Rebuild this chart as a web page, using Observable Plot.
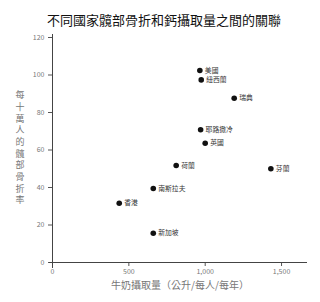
<!DOCTYPE html>
<html><head><meta charset="utf-8">
<script src="https://cdn.jsdelivr.net/npm/d3@7"></script>
<script src="https://cdn.jsdelivr.net/npm/@observablehq/plot@0.6"></script>
<style>body{margin:0;background:#fff;font-family:"Noto Sans CJK TC","Noto Sans",sans-serif}</style>
</head><body><div id="c"></div>
<script>
const countries = ["美國","紐西蘭","瑞典","耶路撒冷","英國","荷蘭","芬蘭","南斯拉夫","香港","新加坡"];
const milk = [965, 974, 1190, 970, 1000, 810, 1430, 660, 437, 660];
const fracture = [102.4, 97.4, 87.6, 70.8, 63.6, 51.7, 50, 39.5, 31.6, 15.6];
const xTicks = [0, 500, 1000, 1500];
const yTicks = [0, 20, 40, 60, 80, 100, 120];
const title = "不同國家髖部骨折和鈣攝取量之間的關聯";
const xLabel = "牛奶攝取量（公升/每人/每年）";
const yLabel = "每十萬人的髖部骨折率";

const data = countries.map((c, i) => ({country: c, milk: milk[i], rate: fracture[i]}));
const font = '"Noto Sans CJK TC","Noto Sans",sans-serif';

const chart = Plot.plot({
  width: 320, height: 302,
  marginLeft: 52, marginRight: 13, marginTop: 37, marginBottom: 40,
  style: {fontFamily: font, background: "#fff"},
  x: {domain: [0, 1670]},
  y: {domain: [0, 120]},
  marks: [
    Plot.axisX({ticks: xTicks, tickFormat: d3.format(","), tickSize: 4, tickPadding: 3, fontSize: 7, color: "#777", stroke: "#555", label: null}),
    Plot.axisY({ticks: yTicks, tickSize: 4, tickPadding: 4, fontSize: 7, color: "#777", stroke: "#555", label: null}),
    Plot.ruleY([0], {stroke: "#444", insetLeft: -3}),
    Plot.ruleX([0], {stroke: "#444", insetBottom: -6, insetTop: -3}),
    Plot.dot(data, {x: "milk", y: "rate", r: 2.8, fill: "#111", stroke: "none"}),
    Plot.text(data, {x: "milk", y: "rate", text: "country", dx: 5, textAnchor: "start", fontSize: 6.8, fill: "#333"}),
    Plot.text([title], {frameAnchor: "top", dy: -22, fontSize: 13, fill: "#111", dx: -16}),
    Plot.text([xLabel], {frameAnchor: "bottom", dy: 26, fontSize: 10, fill: "#777"}),
    Plot.text([yLabel.split("").join("\n")], {frameAnchor: "left", dx: -37, dy: -3, fontSize: 9, lineHeight: 1.3, fill: "#777"})
  ]
});
document.getElementById("c").append(chart);
</script></body></html>
